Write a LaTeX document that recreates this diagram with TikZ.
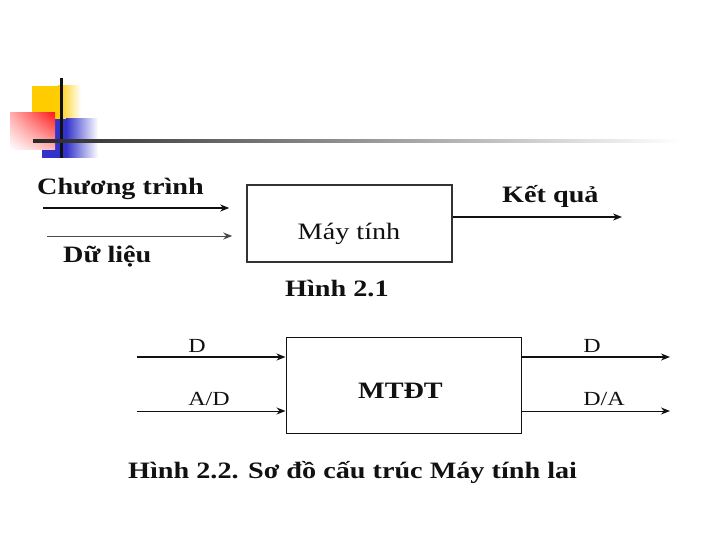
\documentclass[tikz,border=0pt]{standalone}
\usepackage{fontspec}
\setmainfont[FakeStretch=1.2]{Liberation Serif}
\usetikzlibrary{arrows.meta,shadings}
\definecolor{ink}{HTML}{111111}
\definecolor{boxline}{HTML}{333333}
\definecolor{thinline}{HTML}{4A4A4A}
\definecolor{logoyellow}{HTML}{FFCC00}
\definecolor{logoblue}{HTML}{3333CC}
\definecolor{logored}{HTML}{FF1A1A}
\newcommand{\slidefont}{\fontsize{23.5}{26}\selectfont}
\newcommand{\tagfont}{\fontsize{20}{23}\selectfont}
\tikzset{
 every node/.append style={inner sep=0pt,text=ink},
 word/.style={font=\slidefont},
 title/.style={font=\slidefont\bfseries},
 tag/.style={font=\tagfont},
 block/.style={draw=boxline,line width=1.5pt,fill=white},
 flow/.style={-{Stealth[length=9pt,width=7pt]},draw=ink,line width=1.6pt},
 thinflow/.style={-{Stealth[length=9pt,width=7pt]},draw=thinline,line width=1pt},
}

\begin{document}
\begin{tikzpicture}[x=1pt,y=-1pt]
\useasboundingbox (0,0) rectangle (720,540);

% slide logo and rule
\fill[logoyellow] (32,86) rectangle (58,119);
\shade[left color=logoyellow,right color=white] (58,86) rectangle (81,119);
\fill[logoblue] (42,119) rectangle (66,158);
\shade[left color=logoblue,right color=white] (66,119) rectangle (98,158);
\shade[upper right=logored,upper left=logored!35!white,lower right=logored!30!white,lower left=white] (10,113) rectangle (55,150);
\fill[ink] (60,78) rectangle (63,158);
\shade[left color=ink!90,right color=white] (33,140) rectangle (680,143);

% Hinh 2.1
\node[block,minimum width=205,minimum height=77] (comp) at (349.5,223.5) {};
\node[word,anchor=base] (compname) at (349,240) {Máy tính};
\node[title,anchor=base west] (prog) at (37,195) {Chương trình};
\node[title,anchor=base west] (data) at (63,262) {Dữ liệu};
\node[title,anchor=base west] (result) at (502,203) {Kết quả};
\node[title,anchor=base west] (fig1) at (285,296) {Hình 2.1};

\coordinate (progin) at (43,208);
\coordinate (datain) at (47,236);
\coordinate (resout) at (622,217);
\draw[flow,shorten >=17pt] (progin) -- (progin -| comp.west);
\draw[thinflow,shorten >=14pt] (datain) -- (datain -| comp.west);
\draw[flow] (comp.east |- resout) -- (resout);

% Hinh 2.2
\node[block,draw=ink,line width=1pt,minimum width=235,minimum height=96] (hyb) at (403.5,385) {};
\node[title,anchor=base west] (hybname) at (358,398) {MTĐT};
\node[tag,anchor=base] (dinlab) at (197,352) {D};
\node[tag,anchor=base] (adlab) at (209,405) {A/D};
\node[tag,anchor=base] (doutlab) at (592,352) {D};
\node[tag,anchor=base] (dalab) at (604,405) {D/A};
\node[title,anchor=base west] (fig2) at (128,478) {Hình 2.2. Sơ đồ cấu trúc Máy tính lai};

\coordinate (din) at (137,357);
\coordinate (adin) at (137,411);
\coordinate (dout) at (670,357);
\coordinate (daout) at (670,411);
\draw[flow] (din) -- (din -| hyb.west);
\draw[thinflow,draw=ink] (adin) -- (adin -| hyb.west);
\draw[flow] (hyb.east |- dout) -- (dout);
\draw[thinflow,draw=ink] (hyb.east |- daout) -- (daout);

\end{tikzpicture}
\end{document}
